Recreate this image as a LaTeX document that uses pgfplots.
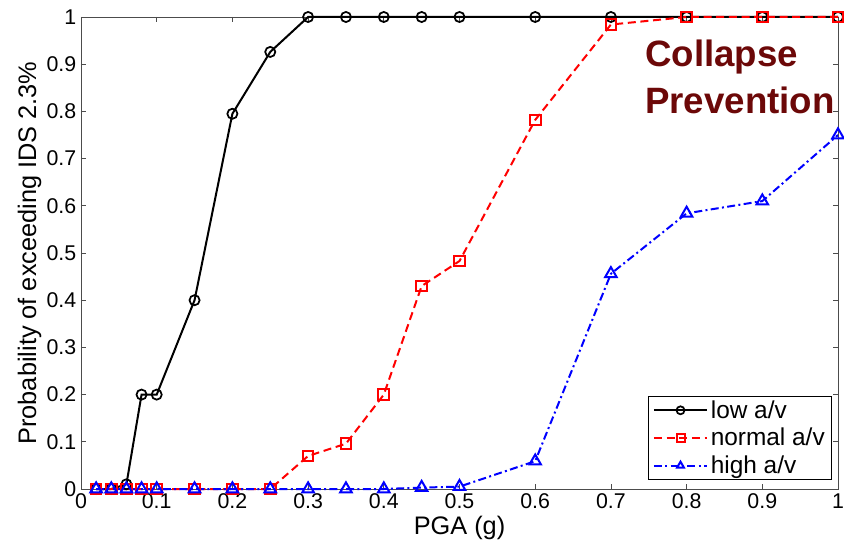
\documentclass[border=0pt]{standalone}
\usepackage{fontspec}
\setmainfont{Liberation Sans}
\usepackage{pgfplots}
\pgfplotsset{compat=1.18}
\definecolor{cpred}{RGB}{108,8,8}
\begin{document}
\begin{tikzpicture}[x=1pt,y=1pt]
\begin{axis}[
  scale only axis,
  width=567.75pt, height=354pt,
  xmin=0, xmax=1, ymin=0, ymax=1,
  xtick={0,0.1,...,1.0}, ytick={0,0.1,...,1.0},
  xticklabels={0,0.1,0.2,0.3,0.4,0.5,0.6,0.7,0.8,0.9,1},
  yticklabels={0,0.1,0.2,0.3,0.4,0.5,0.6,0.7,0.8,0.9,1},
  tick align=inside,
  major tick length=4pt,
  axis line style={black!70, line width=0.6pt},
  tick style={black!70, line width=0.6pt},
  ticklabel style={font=\fontsize{16}{19}\selectfont},
  xticklabel style={yshift=0pt},
  yticklabel style={xshift=0pt},
  label style={font=\fontsize{19}{22}\selectfont},
  xlabel={PGA (g)},
  ylabel={Probability of exceeding IDS 2.3\%},
  xlabel style={yshift=1pt},
  ylabel style={yshift=-3pt},
  legend cell align=left,
  legend style={at={(0.992,0.019)}, anchor=south east, draw=black, line width=0.8pt,
    font=\fontsize{18.3}{21}\selectfont, inner xsep=3pt, inner ysep=1pt, row sep=2pt},
  legend image code/.code={\draw[mark repeat=2,mark phase=2, mark size=3pt] plot coordinates {(0pt,0pt) (20pt,0pt) (40pt,0pt)};},
  clip=false,
]
\addplot[black, line width=1.5pt, mark=o, mark size=3.8pt, mark options={solid, line width=1.3pt}] coordinates {
 (0.02,0) (0.04,0) (0.06,0.01) (0.08,0.2) (0.1,0.2) (0.15,0.4) (0.2,0.795) (0.25,0.926) (0.3,1) (0.35,1) (0.4,1) (0.45,1) (0.5,1) (0.6,1) (0.7,1) (0.8,1) (0.9,1) (1.0,1)};
\addplot[red, line width=1.5pt, dash pattern=on 6pt off 3.5pt, mark=square, mark size=4pt, mark options={solid, line width=1.5pt}] coordinates {
 (0.02,0) (0.04,0) (0.06,0) (0.08,0) (0.1,0) (0.15,0) (0.2,0) (0.25,0) (0.3,0.07) (0.35,0.096) (0.4,0.2) (0.45,0.43) (0.5,0.483) (0.6,0.782) (0.7,0.984) (0.8,1) (0.9,1) (1.0,1)};
\addplot[blue, line width=1.5pt, dash pattern=on 6pt off 2.5pt on 1.5pt off 2.5pt, mark=triangle, mark size=5pt, mark options={solid, line width=1.5pt}] coordinates {
 (0.02,0) (0.04,0) (0.06,0) (0.08,0) (0.1,0) (0.15,0) (0.2,0) (0.25,0) (0.3,0) (0.35,0) (0.4,0) (0.45,0.003) (0.5,0.005) (0.6,0.059) (0.7,0.456) (0.8,0.584) (0.9,0.61) (1.0,0.75)};
\legend{low a/v, normal a/v, high a/v}
\node[align=left, inner sep=0pt, font=\fontsize{27.5}{35}\selectfont\bfseries, text=cpred, anchor=north west] at (axis cs:0.745,0.951) {Collapse\\Prevention};
\end{axis}
\pgfresetboundingbox
\path[use as bounding box] ([shift={(-60.75pt,-42.75pt)}]current axis.south west) rectangle ([shift={(4.5pt,12.75pt)}]current axis.north east);
\end{tikzpicture}
\end{document}
